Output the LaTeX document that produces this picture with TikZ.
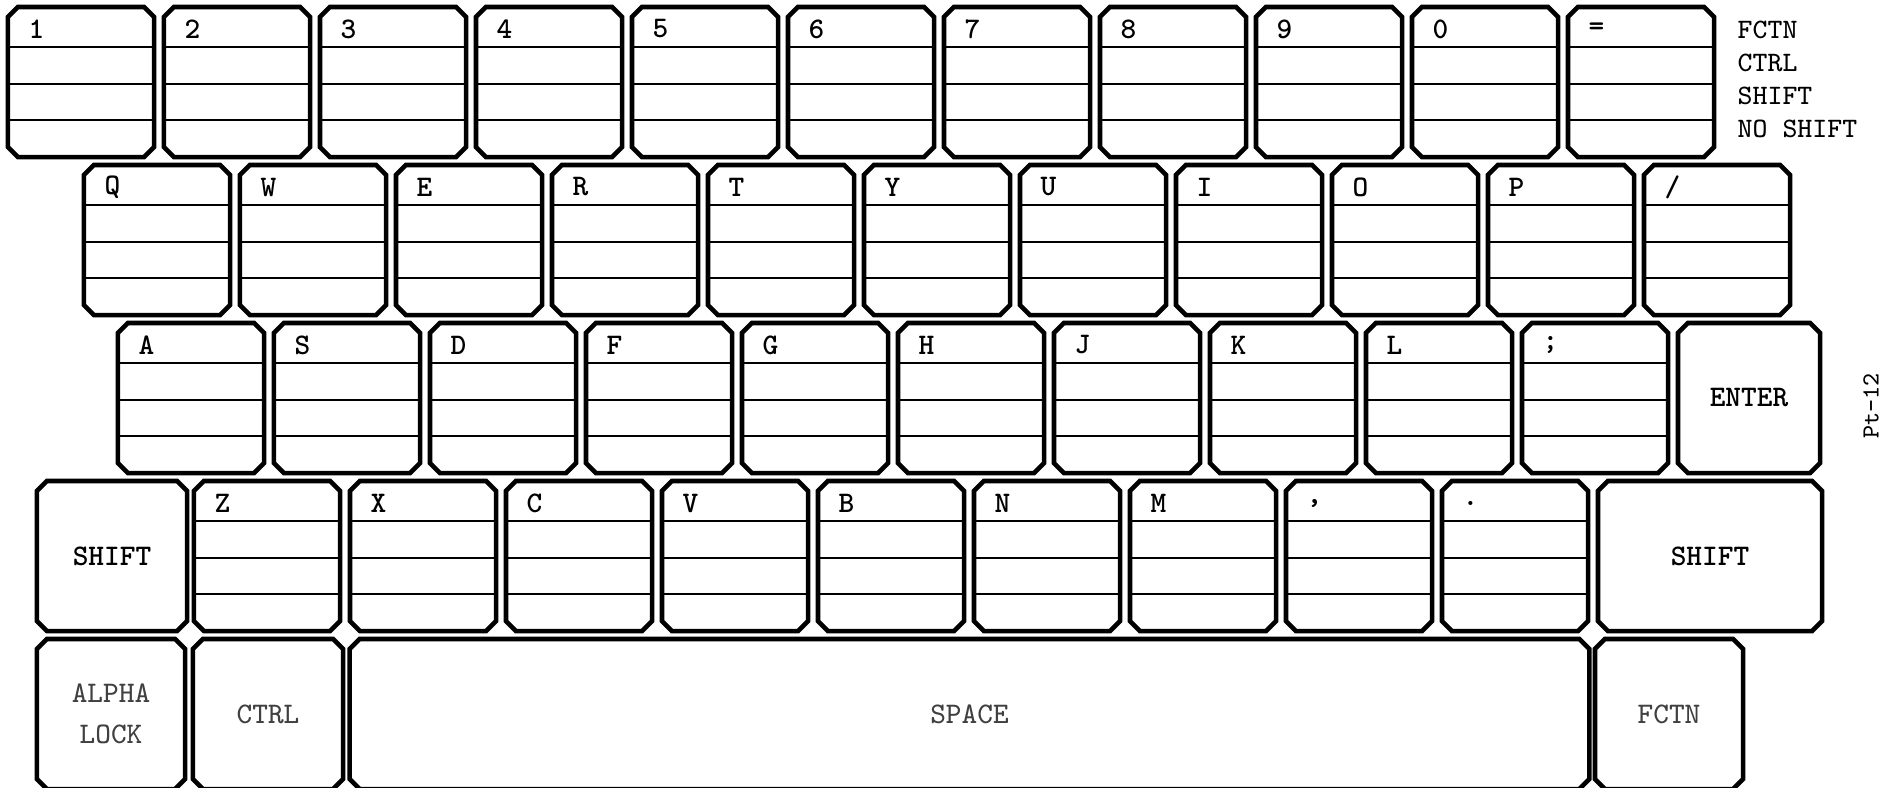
\documentclass[tikz,border=0pt]{standalone}
\usepackage{fontspec}
\tikzstyle{keycap} = [rectangle, inner sep=0pt, outer sep=0pt,
minimum width=1.46cm, minimum height=1.5cm]
\tikzstyle{outline} = [draw=black, line width=1.3pt]
\tikzstyle{divider} = [line width=0.75pt]
\tikzstyle{keyname} = [anchor=west, inner sep=0pt,
font=\ttfamily\bfseries\fontsize{8.5}{10}\selectfont]
\tikzstyle{bigname} = [font=\ttfamily\bfseries\fontsize{8.5}{10}\selectfont]
\tikzstyle{softname} = [align=center, text=black!75,
font=\ttfamily\fontsize{8.5}{11.7}\selectfont]
\tikzstyle{legend} = [anchor=west, inner sep=0pt,
font=\ttfamily\fontsize{8}{9}\selectfont]

\newcommand{\keychamfer}{0.1cm}
% cut-corner outline round a key node
\newcommand{\keyoutline}[1]{%
    \draw[outline] ([xshift=\keychamfer]#1.north west) -- ([xshift=-\keychamfer]#1.north east)
        -- ([yshift=-\keychamfer]#1.north east) -- ([yshift=\keychamfer]#1.south east)
        -- ([xshift=-\keychamfer]#1.south east) -- ([xshift=\keychamfer]#1.south west)
        -- ([yshift=\keychamfer]#1.south west) -- ([yshift=-\keychamfer]#1.north west) -- cycle;
}
% a key with its letter and the three divider lines: name, left, top, letter
\newcommand{\letterkey}[4]{%
    \node[keycap] (#1) at ({#2+73},{#3+75}) {};
    \foreach \d in {40,77,113}
        \draw[divider] ({#2},{#3+\d}) -- ++(146,0);
    \keyoutline{#1}
    \node[keyname] at ({#2+20},{#3+22}) {#4};
}

\begin{document}
\begin{tikzpicture}[x=0.01cm, y=-0.01cm]
    \useasboundingbox (0,0) rectangle (1880,787);
    \clip (0,0) rectangle (1880,787);

    % number row
    \foreach \lbl [count=\i from 0] in {1,2,3,4,5,6,7,8,9,0,=}
        {\letterkey{num\i}{8+156*\i}{7}{\lbl}}
    % upper letter row
    \foreach \lbl [count=\i from 0] in {Q,W,E,R,T,Y,U,I,O,P,/}
        {\letterkey{upper\i}{84+156*\i}{165}{\lbl}}
    % home row
    \foreach \lbl [count=\i from 0] in {A,S,D,F,G,H,J,K,L,;}
        {\letterkey{home\i}{118+156*\i}{323}{\lbl}}
    % lower letter row
    \foreach \lbl [count=\i from 0] in {Z,X,C,V,B,N,M,{,},.}
        {\letterkey{lower\i}{194+156*\i}{481}{\lbl}}

    \node[keycap, bigname, minimum width=1.42cm] (enter)  at (1749,398) {ENTER};
    \node[keycap, bigname, minimum width=1.50cm] (lshift) at (112,556)  {SHIFT};
    \node[keycap, bigname, minimum width=2.24cm] (rshift) at (1710,556) {SHIFT};

    \node[keycap, softname, minimum width=1.48cm]  (alpha) at (111,714)   {ALPHA\\LOCK};
    \node[keycap, softname, minimum width=1.50cm]  (ctrl)  at (268,714)   {CTRL};
    \node[keycap, softname, minimum width=12.39cm] (space) at (969.5,714) {SPACE};
    \node[keycap, softname, minimum width=1.48cm]  (fctn)  at (1669,714)  {FCTN};

    \foreach \k in {enter,lshift,rshift,alpha,ctrl,space,fctn}
        {\keyoutline{\k}}

    \node[legend] (lfctn)    at (1737,30)  {FCTN};
    \node[legend] (lctrl)    at (1737,63)  {CTRL};
    \node[legend] (lshiftk)  at (1737,96)  {SHIFT};
    \node[legend] (lnoshift) at (1737,129) {NO SHIFT};

    \node[legend, anchor=center, rotate=90, font=\ttfamily\fontsize{7}{8}\selectfont]
        (pagemark) at (1871,406) {Pt-12};
\end{tikzpicture}
\end{document}
